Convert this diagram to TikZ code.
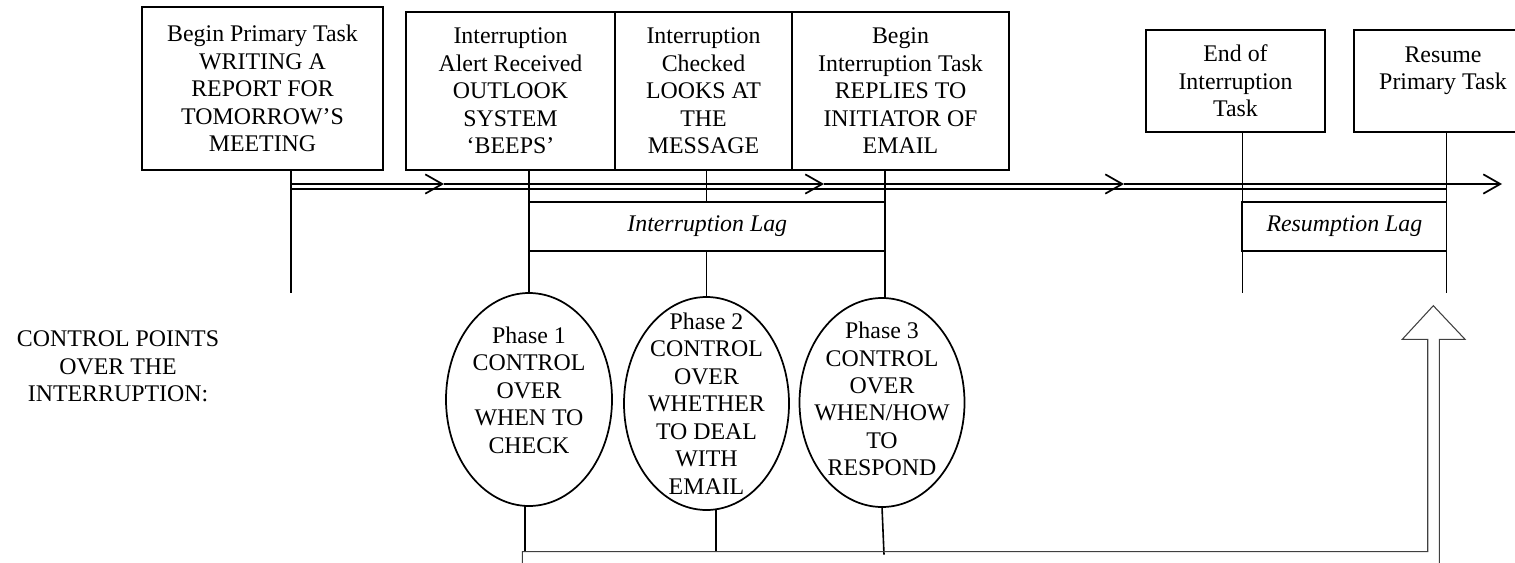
\documentclass[tikz,border=0pt]{standalone}
\usepackage{fontspec}
\setmainfont{Liberation Serif}
\usetikzlibrary{arrows.meta,shapes.geometric,calc}

\begin{document}
\begin{tikzpicture}[x=0.75pt,y=-0.75pt,
  every node/.style={font=\fontsize{17.9pt}{20.6pt}\selectfont, inner sep=0pt, outer sep=0pt},
  stagebox/.style={draw, line width=1.3pt, rectangle, align=center},
  lagbox/.style={draw, line width=1.3pt, rectangle, font=\fontsize{17.9pt}{20.6pt}\selectfont\itshape},
  phase/.style={draw, line width=1.3pt, ellipse},
  plain/.style={align=center},
  link/.style={line width=1.2pt},
  flow/.style={line width=1.3pt},
  flowtip/.style={flow, -{Straight Barb[length=12.75pt, width=14.5pt]}},
  outline/.style={line width=0.8pt, draw=black!75, line join=miter}
]
\useasboundingbox (0,0) rectangle (1515,563);

% stages along the timeline
\node[stagebox, minimum width=180.75pt, minimum height=122.25pt] (b1) at (262.5,88.5)
  {Begin Primary Task\\WRITING A\\REPORT FOR\\TOMORROW’S\\MEETING};
\node[stagebox, minimum width=156.75pt, minimum height=118.5pt] (b2) at (510.5,91)
  {Interruption\\Alert Received\\OUTLOOK\\SYSTEM\\‘BEEPS’};
\node[stagebox, minimum width=132.75pt, minimum height=118.5pt] (b3) at (703.5,91)
  {Interruption\\Checked\\LOOKS AT\\THE\\MESSAGE};
\node[stagebox, minimum width=162.75pt, minimum height=118.5pt] (b4) at (900.5,91)
  {Begin\\Interruption Task\\REPLIES TO\\INITIATOR OF\\EMAIL};
\node[stagebox, minimum width=134.25pt, minimum height=76.5pt] (b5) at (1235.5,81)
  {End of\\Interruption\\Task};
\node[stagebox, minimum width=133.5pt, minimum height=76.5pt, text depth=19pt] (b6) at (1443,81)
  {Resume\\Primary Task};

% lag intervals
\node[lagbox, minimum width=266.6pt, minimum height=36.75pt] (il) at (707.25,226.5) {Interruption Lag};
\node[lagbox, minimum width=153.15pt, minimum height=36.75pt] (rl) at (1344.4,226.6) {Resumption Lag};

% control phases
\node[phase, minimum width=124.5pt, minimum height=159.75pt] (e1) at (529,399.5) {};
\node[phase, minimum width=123.75pt, minimum height=159.75pt] (e2) at (706.5,403.5) {};
\node[phase, minimum width=123.75pt, minimum height=156.75pt] (e3) at (882,402.5) {};
\node[plain, yshift=7.1pt] (e1t) at (e1.center) {Phase 1\\CONTROL\\OVER\\WHEN TO\\CHECK};
\node[plain] (e2t) at (e2.center) {Phase 2\\CONTROL\\OVER\\WHETHER\\TO DEAL\\WITH\\EMAIL};
\node[plain, yshift=2.6pt] (e3t) at (e3.center) {Phase 3\\CONTROL\\OVER\\WHEN/HOW\\TO\\RESPOND};

\node[plain] (cp) at (118,366.7) {CONTROL POINTS\\OVER THE\\INTERRUPTION:};

% timeline (double line with chevrons on the upper rail)
\coordinate (t0) at (290.7,184);
\coordinate (a1) at (444,184);
\coordinate (a2) at (824,184);
\coordinate (a3) at (1124,184);
\coordinate (a4) at (1502,184);
\coordinate (t0l) at (290.7,189.3);
\draw[flowtip] (t0) -- (a1);
\draw[flowtip] (a1) -- (a2);
\draw[flowtip] (a2) -- (a3);
\draw[flowtip] (a3) -- (a4);
\draw[flow] (t0l) -- (rl.east |- t0l);

% drop lines from the stages
\coordinate (v1) at (290.7,292.5);
\draw[link] (b1.south -| t0) -- (v1);
\draw[link] (b2.south -| e1.north) -- (e1.north);
\draw[link] (b3.south -| e2.north) -- (il.north -| e2.north);
\draw[link] (il.south -| e2.north) -- (e2.north);
\draw[link] (b4.south -| il.east) -- (il.east |- e3.north);
\draw[link] (b5.south -| rl.west) -- (rl.west |- v1);
\draw[link] (b6.south -| rl.east) -- (rl.east |- v1);

% feedback path from the phases back to the primary task
\coordinate (bl) at (522.3,551.7);
\draw[link] (e1.-92) -- (e1.-92 |- bl);
\draw[link] (e2.-85) -- (e2.-85 |- bl);
\draw[link] (e3.south) -- ($(e3.south |- bl)+(2,3)$);
\draw[outline] (522.3,566) -- (bl) -- (1427.7,551.7) -- (1427.7,339.3) -- (1402.3,339.3)
  -- (1433.3,305.7) -- (1465,339.3) -- (1439.3,339.3) -- (1439.3,566);
\end{tikzpicture}
\end{document}
